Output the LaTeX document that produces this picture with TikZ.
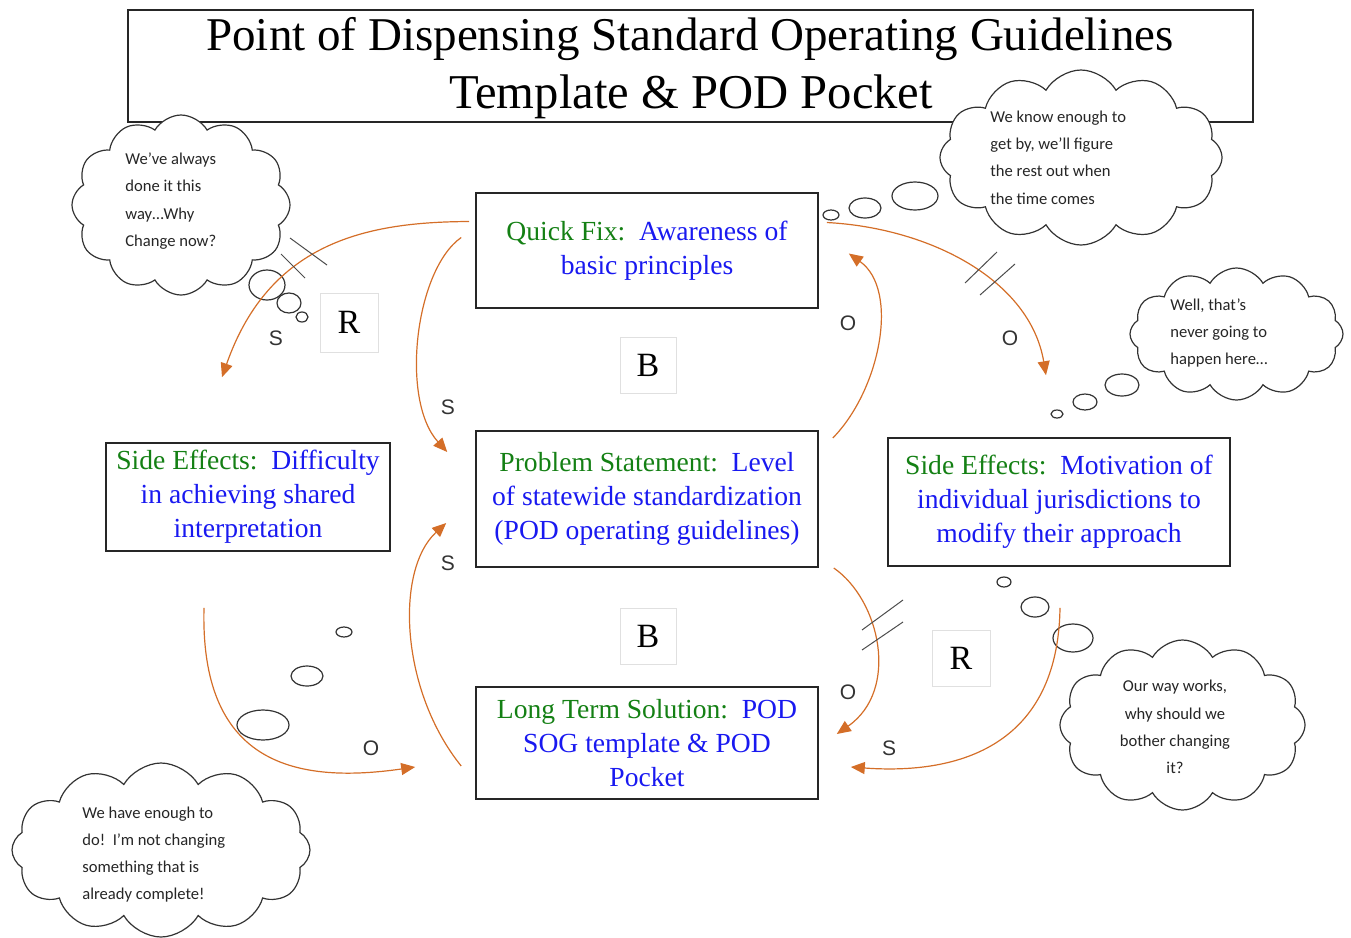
\documentclass[tikz,border=0pt]{standalone}
\usepackage{fontspec}
\setmainfont{Liberation Serif}
\newfontfamily\thinkfont{Carlito}
\newfontfamily\polfont{Liberation Sans}
\usetikzlibrary{arrows.meta,shapes.symbols,calc}
\definecolor{ogreen}{RGB}{20,128,20}
\definecolor{oblue}{RGB}{25,25,240}
\definecolor{arr}{RGB}{212,110,40}
\begin{document}
\begin{tikzpicture}[x=0.5pt,y=-0.5pt,
  box/.style={draw=black!85, line width=0.8pt, align=center, text=oblue, font=\fontsize{13.8}{17}\selectfont, inner sep=0pt},
  think/.style={cloud, cloud puffs=12, cloud puff arc=120, draw=black!80, fill=white, line width=0.6pt, cloud ignores aspect, inner sep=0pt},
  thinktext/.style={font=\thinkfont\fontsize{8.3}{13.6}\selectfont, text=black!85, inner sep=0pt},
  bub/.style={draw=black!80, line width=0.6pt},
  flow/.style={draw=arr, line width=0.6pt, -{Triangle[length=7pt,width=6pt]}},
  hatch/.style={draw=black!70, line width=0.5pt},
  loopl/.style={draw=black!12, line width=0.5pt, minimum width=28pt, minimum height=28pt, font=\fontsize{17}{17}\selectfont, inner sep=0pt},
  pol/.style={font=\polfont\fontsize{10.5}{10.5}\selectfont, text=black!80, inner sep=0pt}
]
\useasboundingbox (0,0) rectangle (1351,938);

% title
\node[draw=black!85, line width=0.8pt, minimum width=562.5pt, minimum height=56pt, inner sep=0pt] (title) at (690.5,66) {};
\node[anchor=base, font=\fontsize{23.5}{23.5}\selectfont, inner sep=0pt] (t1) at (690,50) {Point of Dispensing Standard Operating Guidelines};
\node[anchor=base, font=\fontsize{24.3}{24.3}\selectfont, inner sep=0pt] (t2) at (691,108) {Template \& POD Pocket};

% boxes
\node[box, minimum width=171pt, minimum height=57.5pt] (qf) at (647,250.5) {{\color{ogreen}Quick Fix:}\ \ Awareness of\\basic principles};
\node[box, minimum width=171pt, minimum height=68pt] (ps) at (647,499) {{\color{ogreen}Problem Statement:}\ \ Level\\of statewide standardization\\(POD operating guidelines)};
\node[box, minimum width=171pt, minimum height=56pt] (lt) at (647,743) {{\color{ogreen}Long Term Solution:}\ \ POD\\SOG template \& POD\\Pocket};
\node[box, minimum width=142pt, minimum height=54pt] (sl) at (248,497) {{\color{ogreen}Side Effects:}\ \ Difficulty\\in achieving shared\\interpretation};
\node[box, minimum width=171pt, minimum height=64pt] (sr) at (1059,502) {{\color{ogreen}Side Effects:}\ \ Motivation of\\individual jurisdictions to\\modify their approach};

% loop labels
\node[loopl] (b1) at (648,365.5) {B};
\node[loopl] (b2) at (648,636.5) {B};
\node[loopl, minimum width=29pt, minimum height=29.5pt] (r1) at (349,322.5) {R};
\node[loopl, minimum width=29pt] (r2) at (961,658) {R};

% clouds
\node[think, minimum width=109pt, minimum height=90pt] (c1) at (181,205) {};
\node[thinktext, anchor=west, align=left] (c1t) at (125,201) {We’ve always\\done it this\\way…Why\\Change now?};
\draw[bub] (267,285) ellipse [x radius=18, y radius=15];
\draw[bub] (289,303) ellipse [x radius=12, y radius=10];
\draw[bub] (302,317) ellipse [x radius=6, y radius=5];

\node[think, minimum width=141pt, minimum height=87.5pt] (c2) at (1081,157.5) {};
\node[thinktext, anchor=west, align=left] (c2t) at (990,157.5) {We know enough to\\get by, we’ll figure\\the rest out when\\the time comes};
\draw[bub] (915,196) ellipse [x radius=23, y radius=14];
\draw[bub] (865,208) ellipse [x radius=16, y radius=10];
\draw[bub] (831,215) ellipse [x radius=8, y radius=5];

\node[think, minimum width=106.5pt, minimum height=66pt] (c3) at (1236.5,334) {};
\node[thinktext, anchor=west, align=left] (c3t) at (1170,333) {Well, that’s\\never going to\\happen here…};
\draw[bub] (1122,385) ellipse [x radius=17, y radius=11];
\draw[bub] (1085,402) ellipse [x radius=12, y radius=8];
\draw[bub] (1057,414) ellipse [x radius=6, y radius=4];

\node[think, minimum width=122.5pt, minimum height=85pt] (c4) at (1182.5,725) {};
\node[thinktext, align=center] (c4t) at (1175,727) {Our way works,\\why should we\\bother changing\\it?};
\draw[bub] (1073,638) ellipse [x radius=20, y radius=14];
\draw[bub] (1035,607) ellipse [x radius=14, y radius=10];
\draw[bub] (1004,582) ellipse [x radius=7, y radius=5];

\node[think, minimum width=149pt, minimum height=87pt] (c5) at (161,850) {};
\node[thinktext, anchor=west, align=left] (c5t) at (82,854.5) {We have enough to\\do!\ \ I’m not changing\\something that is\\already complete!};
\draw[bub] (263,725) ellipse [x radius=26, y radius=15];
\draw[bub] (307,676) ellipse [x radius=16, y radius=10];
\draw[bub] (344,632) ellipse [x radius=8, y radius=5];

% connectors
\draw[flow] ($(qf.west)+(-6,-29)$) .. controls (370,222) and (270,240) .. ($(sl.north)+(-26,-65)$);
\draw[flow] ($(qf.west)+(-14,-13)$) .. controls (415,270) and (400,400) .. ($(ps.west)+(-28,-47)$);
\draw[flow] ($(ps.east)+(14,-61)$) .. controls (880,390) and (900,290) .. ($(qf.east)+(30,3)$);
\draw[flow] ($(qf.east)+(8,-28)$) .. controls (930,228) and (1030,280) .. ($(sr.north)+(-13,-62)$);
\draw[flow] ($(lt.west)+(-14,23)$) .. controls (400,690) and (395,570) .. ($(ps.west)+(-29,24)$);
\draw[flow] ($(ps.east)+(15,69)$) .. controls (880,600) and (900,690) .. ($(lt.east)+(18,-9)$);
\draw[flow] ($(sl.south)+(-44,56)$) .. controls (200,760) and (290,785) .. ($(lt.west)+(-60,24)$);
\draw[flow] ($(sr.south)+(1,41)$) .. controls (1058,745) and (960,775) .. ($(lt.east)+(32,24)$);

% delay marks
\draw[hatch] (290,238) -- (327,265);
\draw[hatch] (281,254) -- (305,278);
\draw[hatch] (965,283) -- (997,252);
\draw[hatch] (980,295) -- (1015,264);
\draw[hatch] (862,630) -- (903,600);
\draw[hatch] (862,650) -- (903,622);

% polarities
\node[pol] (p1) at (276,338) {S};
\node[pol] (p2) at (848,323) {O};
\node[pol] (p3) at (448,407) {S};
\node[pol] (p4) at (1010,338) {O};
\node[pol] (p5) at (448,563) {S};
\node[pol] (p6) at (848,692) {O};
\node[pol] (p7) at (371,748) {O};
\node[pol] (p8) at (889,748) {S};
\end{tikzpicture}
\end{document}
